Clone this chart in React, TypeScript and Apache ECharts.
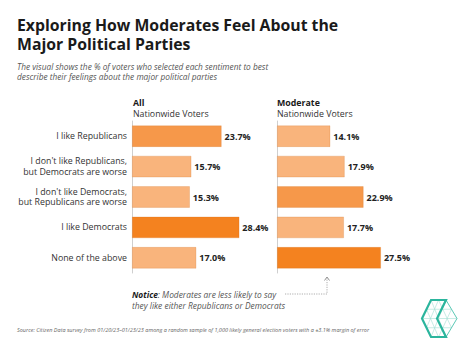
import React, { useEffect, useRef } from "react";
import * as echarts from "echarts";

const categories = [
  "I like Republicans",
  "I don't like Republicans,\nbut Democrats are worse",
  "I don't like Democrats,\nbut Republicans are worse",
  "I like Democrats",
  "None of the above",
];
const allVoters = [23.7, 15.7, 15.3, 28.4, 17.0];
const moderateVoters = [14.1, 17.9, 22.9, 17.7, 27.5];
const panelTitles = ["All", "Moderate"];
const panelSubtitle = "Nationwide Voters";

const FONT = "'Open Sans', 'Noto Sans', sans-serif";
const DARK = "#F4821F";
const MID = "#F6984A";
const LIGHT = "#F9B47C";

function barColor(v: number) {
  return v >= 25 ? DARK : v >= 20 ? MID : LIGHT;
}

function text(x: number, y: number, t: string, font: string, fill: string, extra: any = {}) {
  return {
    type: "text",
    x,
    y,
    silent: true,
    style: {
      text: t,
      font,
      fill,
      align: "left",
      verticalAlign: "middle",
      textAlign: "left",
      textVerticalAlign: "middle",
      ...extra,
    },
  };
}

export default function App() {
  const ref = useRef<HTMLDivElement>(null);
  useEffect(() => {
    if (!ref.current) return;
    const chart = echarts.init(ref.current, undefined, { renderer: "svg" });

    const gridTop = 121;
    const gridH = 152;
    const gridW = 113.4;
    const lefts = [132, 277];

    const mkSeries = (data: number[], idx: number) => ({
      type: "bar",
      xAxisIndex: idx,
      yAxisIndex: idx,
      data,
      barWidth: 21.5,
      itemStyle: {
        color: (p: any) => barColor(p.value),
        borderColor: "rgba(200,100,20,0.35)",
        borderWidth: 0.6,
      },
      label: {
        show: true,
        position: "right",
        distance: 3,
        formatter: (p: any) => Number(p.value).toFixed(1) + "%",
        fontFamily: FONT,
        fontSize: 9,
        fontWeight: "bold",
        color: "#222",
      },
    });

    const L = [422, 318.5], TL = [431, 300], T2 = [446, 300], R = [457, 318.5], B2 = [446, 337], BL = [431, 337], M = [437, 318.5];
    const mid = (a: number[], b: number[]) => [(a[0] + b[0]) / 2, (a[1] + b[1]) / 2];
    const m1 = mid(L, TL), m2 = mid(TL, T2), m3 = mid(T2, R), m4 = mid(R, B2), m5 = mid(B2, BL), m6 = mid(BL, L);
    const thin = { stroke: "#A3DFD4", lineWidth: 0.6, fill: null };
    const thinLines = [
      [L, R], [TL, B2], [T2, BL], [m1, m3], [m6, m4], [m2, m6], [m2, m4], [m5, m1], [m5, m3],
    ].map((pts) => ({ type: "polyline", silent: true, shape: { points: pts }, style: thin }));

    chart.setOption({
      animation: false,
      grid: lefts.map((l) => ({ left: l, top: gridTop, width: gridW, height: gridH })),
      xAxis: lefts.map((_, i) => ({ type: "value", gridIndex: i, min: 0, max: 30, show: false })),
      yAxis: lefts.map((_, i) => ({
        type: "category",
        gridIndex: i,
        data: categories,
        inverse: true,
        axisTick: { show: false },
        axisLine: { show: true, lineStyle: { color: "#cfcfcf", width: 1 } },
        splitLine: { show: false },
        axisLabel: {
          show: i === 0,
          margin: 5,
          fontFamily: FONT,
          fontSize: 8.8,
          color: "#333",
          lineHeight: 10.6,
          align: "right",
        },
      })),
      series: [mkSeries(allVoters, 0), mkSeries(moderateVoters, 1)],
      graphic: [
        text(17, 34.5, "Exploring How Moderates Feel About the\nMajor Political Parties", `bold 15.8px ${FONT}`, "#1a1a1a", { lineHeight: 19.4 }),
        text(17, 66, "The visual shows the % of voters who selected each sentiment to best", `italic 8.3px ${FONT}`, "#555"),
        text(17, 76.5, "describe their feelings about the major political parties", `italic 8.3px ${FONT}`, "#555"),
        text(133, 102.5, panelTitles[0], `bold 8.8px ${FONT}`, "#1a1a1a"),
        text(133, 114, panelSubtitle, `8.8px ${FONT}`, "#333"),
        text(277, 102.5, panelTitles[1], `bold 8.8px ${FONT}`, "#1a1a1a"),
        text(277, 114, panelSubtitle, `8.8px ${FONT}`, "#333"),
        {
          type: "text",
          x: 132,
          y: 294,
          silent: true,
          style: {
            rich: {
              b: { font: `italic bold 8.4px ${FONT}`, fill: "#1a1a1a" },
              n: { font: `italic 8.4px ${FONT}`, fill: "#555" },
            },
            text: "{b|Notice}{n|: Moderates are less likely to say}",
            align: "left",
            verticalAlign: "middle",
          },
        },
        text(132, 305, "they like either Republicans or Democrats", `italic 8.4px ${FONT}`, "#555"),
        {
          type: "polyline",
          silent: true,
          shape: { points: [[285, 294], [327, 294], [327, 278]] },
          style: { stroke: "#999", lineWidth: 0.8, lineDash: [1.2, 1.2], fill: null },
        },
        {
          type: "polyline",
          silent: true,
          shape: { points: [[324.5, 280.5], [327, 277], [329.5, 280.5]] },
          style: { stroke: "#777", lineWidth: 0.8, fill: null },
        },
        text(
          17,
          330,
          "Source: Citizen Data survey from 01/20/23–01/23/23 among a random sample of 1,000 likely general election voters with a ±3.1% margin of error",
          `italic 5.5px ${FONT}`,
          "#666"
        ),
        ...thinLines,
        {
          type: "polyline",
          silent: true,
          shape: { points: [T2, R, B2] },
          style: { stroke: "#5CC9B6", lineWidth: 1, fill: null },
        },
        {
          type: "polygon",
          silent: true,
          shape: { points: [TL, T2, M, B2, BL, L] },
          style: { stroke: "#2BB59D", lineWidth: 2.2, fill: null, lineJoin: "miter" },
        },
      ],
    });
    return () => chart.dispose();
  }, []);
  return (
    <div
      ref={ref}
      style={{ position: "fixed", left: 0, top: 0, width: 474, height: 349, background: "#fff" }}
    />
  );
}
